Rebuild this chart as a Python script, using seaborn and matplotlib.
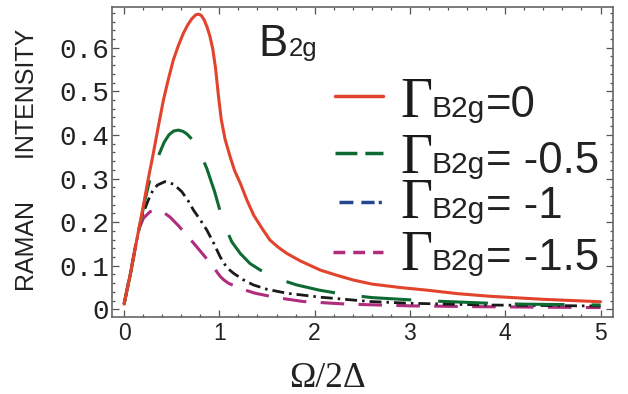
import pandas as pd
import matplotlib
matplotlib.use("Agg")
import matplotlib.pyplot as plt
import seaborn as sns
from matplotlib.lines import Line2D

# valores (Omega/2Delta, intensidade Raman)
omega_g0 = [0, 0.07, 0.133, 0.20, 0.25, 0.307, 0.36, 0.413, 0.465, 0.517, 0.57, 0.622,
            0.67, 0.71, 0.75, 0.78, 0.81, 0.84, 0.87, 0.90, 0.93, 0.96, 0.99, 1.02, 1.06,
            1.11, 1.16, 1.22, 1.29, 1.36, 1.45, 1.53, 1.62, 1.71, 1.85, 2.06, 2.25, 2.41,
            2.6, 2.9, 3.18, 3.5, 3.84, 4.4, 5.0]
raman_g0 = [0.012, 0.085, 0.159, 0.235, 0.295, 0.358, 0.420, 0.480, 0.528, 0.572, 0.605,
            0.633, 0.653, 0.666, 0.675, 0.677, 0.674, 0.664, 0.648, 0.627, 0.598, 0.553,
            0.490, 0.435, 0.390, 0.352, 0.318, 0.289, 0.250, 0.216, 0.185, 0.159, 0.142,
            0.128, 0.111, 0.090, 0.077, 0.067, 0.058, 0.050, 0.044, 0.036, 0.030, 0.023,
            0.0175]

omega_g05 = [0, 0.07, 0.133, 0.22, 0.273, 0.33, 0.378, 0.42, 0.47, 0.52, 0.57, 0.62, 0.66,
             0.70, 0.745, 0.80, 0.868, 0.95, 1.025, 1.08, 1.13, 1.22, 1.322, 1.43, 1.532,
             1.67, 1.812, 2.05, 2.319, 2.6, 3.14, 3.84, 4.17, 5.0]
raman_g05 = [0.012, 0.085, 0.159, 0.251, 0.300, 0.335, 0.361, 0.383, 0.400, 0.409, 0.411,
             0.408, 0.402, 0.393, 0.381, 0.358, 0.323, 0.270, 0.212, 0.180, 0.155, 0.128,
             0.105, 0.090, 0.079, 0.066, 0.056, 0.044, 0.034, 0.027, 0.020, 0.014, 0.012,
             0.010]

omega_g1 = [0, 0.07, 0.133, 0.19, 0.255, 0.30, 0.35, 0.43, 0.52, 0.605, 0.67, 0.727, 0.80,
            0.868, 0.94, 1.007, 1.077, 1.147, 1.25, 1.357, 1.5, 1.707, 2.057, 2.58, 3.0,
            3.8, 5.0]
raman_g1 = [0.012, 0.085, 0.159, 0.215, 0.251, 0.272, 0.285, 0.293, 0.287, 0.270, 0.250,
            0.228, 0.205, 0.182, 0.152, 0.121, 0.096, 0.083, 0.068, 0.056, 0.046, 0.037,
            0.028, 0.018, 0.014, 0.010, 0.0076]

omega_g15 = [0, 0.05, 0.1, 0.15, 0.203, 0.273, 0.343, 0.41, 0.48, 0.57, 0.658, 0.76, 0.84,
             0.92, 1.007, 1.05, 1.095, 1.217, 1.375, 1.60, 1.88, 2.34, 3.0, 3.8, 5.0]
raman_g15 = [0.012, 0.067, 0.122, 0.182, 0.209, 0.224, 0.228, 0.223, 0.212, 0.192, 0.170,
             0.144, 0.123, 0.102, 0.076, 0.067, 0.060, 0.048, 0.037, 0.027, 0.018, 0.012,
             0.008, 0.006, 0.004]

gamma_values = ["=0", "= -0.5", "= -1", "= -1.5"]
x_ticks = [0, 1, 2, 3, 4, 5]
y_ticks = [0, 0.1, 0.2, 0.3, 0.4, 0.5, 0.6]
y_tick_labels = ["0", "0.1", "0.2", "0.3", "0.4", "0.5", "0.6"]

red = "#e2432c"
green = "#0e6a32"
black = "#1a1a1a"
magenta = "#b02c7c"
blue = "#22468f"

sns.set_style("ticks")
plt.rcParams["font.family"] = ["Liberation Sans", "DejaVu Sans"]
plt.rcParams["mathtext.fontset"] = "custom"
plt.rcParams["mathtext.rm"] = "Liberation Serif"

fig = plt.figure(figsize=(6.28, 3.94), dpi=100)
ax = fig.add_axes([0.178, 0.196, 0.7986, 0.787])

curvas = [
    (omega_g0, raman_g0, red, 2.2, "-"),
    (omega_g05, raman_g05, green, 2.2, (0, (16.3, 8.8))),
    (omega_g1, raman_g1, black, 2.0, (0, (4.3, 1.8, 0.9, 1.8))),
    (omega_g15, raman_g15, magenta, 2.2, (0, (7.7, 4.7))),
]
# desenha do fundo para a frente (magenta por baixo)
for xs, ys, cor, lw, estilo in reversed(curvas):
    df = pd.DataFrame({"omega": xs, "raman": ys})
    sns.lineplot(data=df, x="omega", y="raman", ax=ax, color=cor, linewidth=lw,
                 linestyle=estilo, errorbar=None, sort=False)

ax.set_xlim(-0.129, 5.134)
ax.set_ylim(-0.017, 0.694)

ax.set_xticks(x_ticks)
ax.set_xticklabels([str(t) for t in x_ticks], fontsize=16.5, family="Liberation Sans",
                   color="#222222")
ax.set_xticks([t / 5 for t in range(0, 26)], minor=True)
ax.set_yticks(y_ticks)
ax.set_yticklabels(y_tick_labels, fontsize=20, family="Liberation Mono", color="#222222")
ax.set_yticks([t / 50 for t in range(0, 35)], minor=True)

ax.tick_params(which="both", direction="in", top=True, right=True, color="#555555",
               width=0.9)
ax.tick_params(which="major", length=5, pad=4)
ax.tick_params(which="minor", length=2.5)
ax.tick_params(axis="y", which="major", pad=2)
for s in ax.spines.values():
    s.set_color("#666666")
    s.set_linewidth(1.2)

ax.set_xlabel("Ω/2Δ", family="Liberation Serif", fontsize=25.5, color="#222222")
ax.xaxis.set_label_coords(0.431, -0.2258)
ax.xaxis.label.set_va("baseline")
ax.set_ylabel("RAMAN      INTENSITY", fontsize=18, color="#222222")
ax.yaxis.set_label_coords(-0.1695, 0.5055)
ax.yaxis.label.set_va("center")

# titulo B2g
ax.text(0.292, 0.841, "B", transform=ax.transAxes, fontsize=31.5, va="baseline",
        color="#222222")
ax.text(0.353, 0.841, "2g", transform=ax.transAxes, fontsize=18.5, va="baseline",
        color="#222222")

# legenda feita a mao
linhas_leg = [
    (0.4453, 0.712, red, "-"),
    (0.4453, 0.527, green, (0, (6.3, 2.3))),
    (0.4530, 0.369, blue, (0, (4.0, 2.3, 3.8, 1.2, 0.9, 5))),
    (0.4413, 0.2097, magenta, (0, (3.4, 2.3))),
]
bases = [0.645, 0.4635, 0.318, 0.1506]
for (x0, y, cor, estilo), base, val in zip(linhas_leg, bases, gamma_values):
    ax.add_line(Line2D([x0, 0.541], [y, y], transform=ax.transAxes, color=cor,
                       linewidth=2.5, linestyle=estilo))
    ax.text(0.5749, base, r"$\mathrm{\Gamma}$", transform=ax.transAxes, fontsize=40,
            va="baseline", color="#1a1a1a")
    ax.text(0.6366, base, "B2g", transform=ax.transAxes, fontsize=21.5, va="baseline",
            color="#222222")
    ax.text(0.7462, base, val, transform=ax.transAxes, fontsize=31.5, va="baseline",
            color="#222222")

fig.savefig("out.png", dpi=100)
